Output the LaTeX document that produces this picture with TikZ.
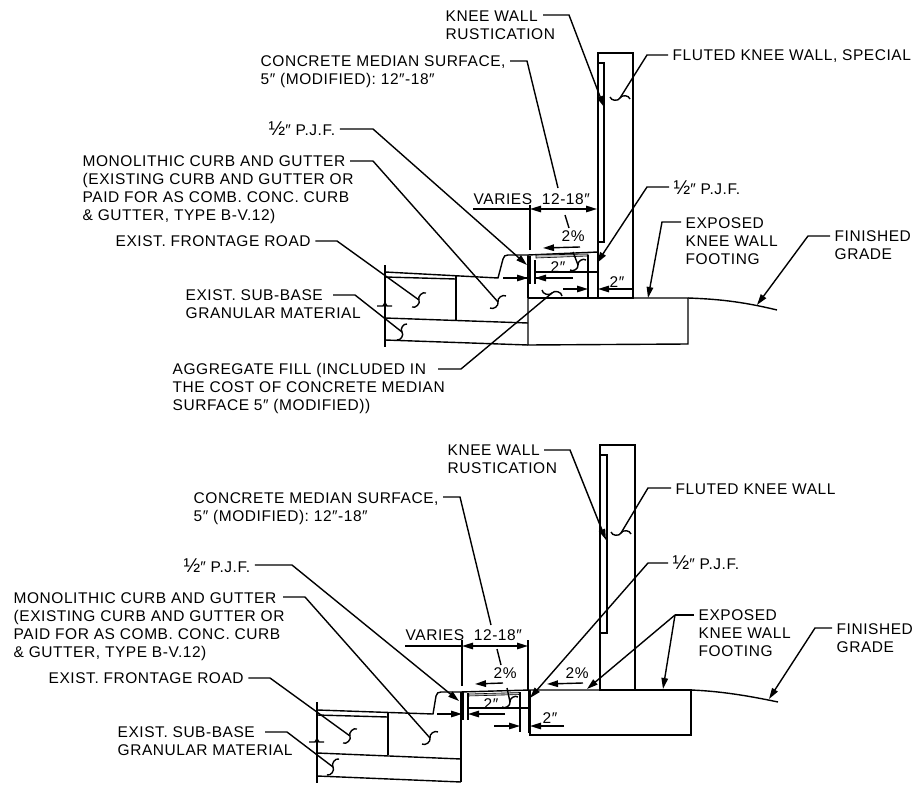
\documentclass[tikz,border=0pt]{standalone}
\usepackage{fontspec}
\setmainfont[LetterSpace=3.5]{Liberation Sans}
\usetikzlibrary{arrows.meta,calc}
\tikzset{
	leader/.style={shorten <=4pt},
	tipped/.style={-{Stealth[inset=0pt,length=11pt,width=6.5pt]}},
	bothtips/.style={{Stealth[inset=0pt,length=11pt,width=6.5pt]}-{Stealth[inset=0pt,length=11pt,width=6.5pt]}},
	heavy/.style={line width=2.2pt}
}
\newcommand{\wiggle}[3]{\draw ($(#1)+(#2,#3)$) to[bend right=70] (#1) to[bend left=70] ($(#1)-(#2,#3)$);}
\newcommand{\halfmark}{{\fontsize{20}{18}\selectfont ½}}
\begin{document}
\begin{tikzpicture}[x=1pt,y=-1pt,line width=1.4pt]
	\tikzstyle{every node}+=[inner sep=0pt,anchor=north west,align=left,font=\fontsize{15.5}{18}\selectfont]
	\useasboundingbox (0,0) rectangle (914,792);
	\draw (598,53) rectangle (633,298);
	\draw (598,63) -- (604,63) -- (604,242) -- (598,242);
	\draw (633,298) -- (688,298) -- (688,344) -- (528,345) -- (528,255) -- (508,255);
	\draw (688,298) .. controls (715,299) and (740,301) .. (777,310);
	\draw (508,255) .. controls (505,255) and (504,256) .. (503,259) -- (498,278) -- (385,272);
	\draw (528,255) -- (598,252);
	\draw[fill=gray!50,line width=.6pt] (536,255) -- (588,254) -- (588,256) -- (536,258) -- cycle;
	\draw (385,277) -- (456,279);
	\draw (456,275) -- (456,320);
	\draw (385,265) -- (385,347);
	\draw (377,306) -- (383,306) -- (385,303) -- (387,306) -- (392,306);
	\draw (385,318) -- (528,323);
	\draw (385,340) -- (528,345);
	\draw (536,272) -- (598,272);
	\draw (528,298) -- (598,298);
	\draw (588,255) -- (588,298);
	\draw (530,256) -- (530,284);
	\draw (535,260) -- (535,284);
	\draw[heavy] (598,253) -- (598,298);
	\draw[heavy] (528,256) -- (528,298);
	\draw (530,205) -- (530,250);
	\draw (503,278) -- (528,278);
	\draw (535,278) -- (573,278);
	\node (kneetop) at (445,10) {KNEE WALL\\RUSTICATION};
	\coordinate (kneetopfrom) at (543,15);
	\coordinate (kneetopbend) at (569,15);
	\coordinate (kneetoptip) at (604,107);
	\draw[tipped] (kneetopfrom) -- (kneetopbend) -- (kneetoptip);
	\node (flutedtop) at (672,49) {FLUTED KNEE WALL, SPECIAL};
	\coordinate (flutedtopbend) at (647,55);
	\coordinate (flutedtopend) at (620,98);
	\draw[leader] (flutedtopbend -| flutedtop.west) -- (flutedtopbend) -- (flutedtopend);
	\wiggle{flutedtopend}{10}{1}
	\node (concretetop) at (260,55) {CONCRETE MEDIAN SURFACE,\\5″ (MODIFIED): 12″-18″};
	\coordinate (concretetopbend) at (527,61);
	\coordinate (concretetopa) at (558,188);
	\coordinate (concretetopb) at (565,215);
	\coordinate (concretetopc) at (569,228);
	\coordinate (concretetopd) at (573,252);
	\coordinate (concretetopend) at (578,265);
	\draw[leader] (concretetopbend -| concretetop.east) -- (concretetopbend) -- (concretetopa);
	\draw (concretetopb) -- (concretetopc);
	\draw (concretetopd) -- (concretetopend);
	\wiggle{concretetopend}{8}{-5}
	\node (pjftopleft) at (268,121) {\halfmark″ P.J.F.};
	\coordinate (pjftopleftbend) at (373,129);
	\coordinate (pjftoplefttip) at (527,265);
	\draw[leader,tipped] (pjftopleftbend -| pjftopleft.east) -- (pjftopleftbend) -- (pjftoplefttip);
	\node (pjftopright) at (673,180) {\halfmark″ P.J.F.};
	\coordinate (pjftoprightbend) at (647,187);
	\coordinate (pjftoprighttip) at (597,263);
	\draw[leader,tipped] (pjftoprightbend -| pjftopright.west) -- (pjftoprightbend) -- (pjftoprighttip);
	\node (monotop) at (82,155) {MONOLITHIC CURB AND GUTTER\\(EXISTING CURB AND GUTTER OR\\PAID FOR AS COMB. CONC. CURB\\\& GUTTER, TYPE B-V.12)};
	\coordinate (monotopfrom) at (350,161);
	\coordinate (monotopbend) at (373,161);
	\coordinate (monotopend) at (498,302);
	\draw (monotopfrom) -- (monotopbend) -- (monotopend);
	\wiggle{monotopend}{8}{-6}
	\node (roadtop) at (115,235) {EXIST. FRONTAGE ROAD};
	\coordinate (roadtopbend) at (337,241);
	\coordinate (roadtopend) at (419,300);
	\draw[leader] (roadtopbend -| roadtop.east) -- (roadtopbend) -- (roadtopend);
	\wiggle{roadtopend}{7}{-7}
	\node (basetop) at (185,289) {EXIST. SUB-BASE\\GRANULAR MATERIAL};
	\coordinate (basetopfrom) at (333,295);
	\coordinate (basetopbend) at (355,295);
	\coordinate (basetopend) at (402,332);
	\draw (basetopfrom) -- (basetopbend) -- (basetopend);
	\wiggle{basetopend}{5}{-8}
	\node (filltop) at (172,363) {AGGREGATE FILL (INCLUDED IN\\THE COST OF CONCRETE MEDIAN\\SURFACE 5″ (MODIFIED))};
	\coordinate (filltopfrom) at (438,369);
	\coordinate (filltopbend) at (461,369);
	\coordinate (filltopend) at (552,293);
	\draw (filltopfrom) -- (filltopbend) -- (filltopend);
	\wiggle{filltopend}{10}{3}
	\node (exposedtop) at (685,217) {EXPOSED\\KNEE WALL\\FOOTING};
	\coordinate (exposedtopbend) at (662,222);
	\coordinate (exposedtoptip) at (648,298);
	\draw[leader,tipped] (exposedtopbend -| exposedtop.west) -- (exposedtopbend) -- (exposedtoptip);
	\node (gradetop) at (834,230) {FINISHED\\GRADE};
	\coordinate (gradetopbend) at (808,236);
	\coordinate (gradetoptip) at (757,305);
	\draw[leader,tipped] (gradetopbend -| gradetop.west) -- (gradetopbend) -- (gradetoptip);
	\node (variestop) at (473,193) {VARIES\hspace{5pt} 12-18″};
	\coordinate (variestopfrom) at (473,209);
	\coordinate (variestopleft) at (530,209);
	\coordinate (variestopright) at (597,209);
	\draw (variestopfrom) -- (variestopleft);
	\draw[bothtips] (variestopleft) -- (variestopright);
	\node (slopetop) at (561,230) {2\%};
	\coordinate (slopetopfrom) at (580,247);
	\coordinate (slopetoptip) at (543,248);
	\draw[tipped] (slopetopfrom) -- (slopetoptip);
	\node (twoinnertop) at (550,261) {2″};
	\coordinate (twoinnertopa) at (503,278);
	\coordinate (twoinnertopb) at (528,278);
	\coordinate (twoinnertopc) at (573,278);
	\coordinate (twoinnertopd) at (535,278);
	\draw[tipped] (twoinnertopa) -- (twoinnertopb);
	\draw[tipped] (twoinnertopc) -- (twoinnertopd);
	\node (twoouttertop) at (609,276) {2″};
	\coordinate (twoouttertopa) at (563,289);
	\coordinate (twoouttertopb) at (588,289);
	\coordinate (twoouttertopc) at (632,289);
	\coordinate (twoouttertopd) at (598,289);
	\draw[tipped] (twoouttertopa) -- (twoouttertopb);
	\draw[tipped] (twoouttertopc) -- (twoouttertopd);
	\draw (600,445) rectangle (635,690);
	\draw (600,455) -- (607,455) -- (607,633) -- (600,633);
	\draw (635,690) -- (691,690) -- (691,735) -- (530,735) -- (530,690);
	\draw (691,690) .. controls (715,691) and (740,694) .. (778,702);
	\draw (600,690) -- (530,690) -- (460,692) -- (441,692);
	\draw (441,692) .. controls (438,692) and (437,693) .. (436,696) -- (433,714) -- (317,710);
	\draw[fill=gray!50,line width=.6pt] (468,694) -- (520,692.5) -- (520,694.5) -- (468,696) -- cycle;
	\draw (317,715) -- (388,717);
	\draw (388,712) -- (388,755);
	\draw (317,702) -- (317,783);
	\draw (309,742) -- (315,742) -- (317,739) -- (319,742) -- (324,742);
	\draw (317,753) -- (461,759);
	\draw (317,776) -- (461,782);
	\draw (461,692) -- (461,782);
	\draw (467,708) -- (528,708);
	\draw (520,692) -- (520,732);
	\draw (468,693) -- (468,720);
	\draw (463,692) -- (463,720);
	\draw[heavy] (461,692) -- (461,716);
	\draw[heavy] (529,690) -- (529,733);
	\draw (462,640) -- (462,686);
	\draw (528,640) -- (528,690);
	\node (kneelow) at (447,444) {KNEE WALL\\RUSTICATION};
	\coordinate (kneelowfrom) at (544,450);
	\coordinate (kneelowbend) at (570,450);
	\coordinate (kneelowtip) at (606,540);
	\draw[tipped] (kneelowfrom) -- (kneelowbend) -- (kneelowtip);
	\node (flutedlow) at (675,483) {FLUTED KNEE WALL};
	\coordinate (flutedlowbend) at (648,488);
	\coordinate (flutedlowend) at (621,533);
	\draw[leader] (flutedlowbend -| flutedlow.west) -- (flutedlowbend) -- (flutedlowend);
	\wiggle{flutedlowend}{10}{1}
	\node (concretelow) at (193,492) {CONCRETE MEDIAN SURFACE,\\5″ (MODIFIED): 12″-18″};
	\coordinate (concretelowbend) at (460,497);
	\coordinate (concretelowa) at (491,625);
	\coordinate (concretelowb) at (497,649);
	\coordinate (concretelowc) at (501,665);
	\coordinate (concretelowd) at (507,688);
	\coordinate (concretelowend) at (510,702);
	\draw[leader] (concretelowbend -| concretelow.east) -- (concretelowbend) -- (concretelowa);
	\draw (concretelowb) -- (concretelowc);
	\draw (concretelowd) -- (concretelowend);
	\wiggle{concretelowend}{8}{-5}
	\node (pjflowleft) at (183,558) {\halfmark″ P.J.F.};
	\coordinate (pjflowleftbend) at (292,565);
	\coordinate (pjflowlefttip) at (459,701);
	\draw[leader,tipped] (pjflowleftbend -| pjflowleft.east) -- (pjflowleftbend) -- (pjflowlefttip);
	\node (pjflowright) at (672,555) {\halfmark″ P.J.F.};
	\coordinate (pjflowrightbend) at (648,563);
	\coordinate (pjflowrighttip) at (530,698);
	\draw[leader,tipped] (pjflowrightbend -| pjflowright.west) -- (pjflowrightbend) -- (pjflowrighttip);
	\node (monolow) at (13,592) {MONOLITHIC CURB AND GUTTER\\(EXISTING CURB AND GUTTER OR\\PAID FOR AS COMB. CONC. CURB\\\& GUTTER, TYPE B-V.12)};
	\coordinate (monolowfrom) at (283,597);
	\coordinate (monolowbend) at (305,597);
	\coordinate (monolowend) at (430,738);
	\draw (monolowfrom) -- (monolowbend) -- (monolowend);
	\wiggle{monolowend}{8}{-6}
	\node (roadlow) at (48,672) {EXIST. FRONTAGE ROAD};
	\coordinate (roadlowbend) at (270,678);
	\coordinate (roadlowend) at (350,736);
	\draw[leader] (roadlowbend -| roadlow.east) -- (roadlowbend) -- (roadlowend);
	\wiggle{roadlowend}{7}{-7}
	\node (baselow) at (117,726) {EXIST. SUB-BASE\\GRANULAR MATERIAL};
	\coordinate (baselowfrom) at (265,732);
	\coordinate (baselowbend) at (287,732);
	\coordinate (baselowend) at (333,767);
	\draw (baselowfrom) -- (baselowbend) -- (baselowend);
	\wiggle{baselowend}{6}{-8}
	\node (exposedlow) at (698,609) {EXPOSED\\KNEE WALL\\FOOTING};
	\coordinate (exposedlowbend) at (675,615);
	\coordinate (exposedlowtipa) at (663,689);
	\coordinate (exposedlowtipb) at (587,689);
	\draw[leader] (exposedlowbend -| exposedlow.west) -- (exposedlowbend);
	\draw[tipped] (exposedlowbend) -- (exposedlowtipa);
	\draw[tipped] (exposedlowbend) -- (exposedlowtipb);
	\node (gradelow) at (836,623) {FINISHED\\GRADE};
	\coordinate (gradelowbend) at (815,628);
	\coordinate (gradelowtip) at (769,699);
	\draw[leader,tipped] (gradelowbend -| gradelow.west) -- (gradelowbend) -- (gradelowtip);
	\node (varieslow) at (405,629) {VARIES\hspace{5pt} 12-18″};
	\coordinate (varieslowfrom) at (405,646);
	\coordinate (varieslowleft) at (462,646);
	\coordinate (varieslowright) at (528,646);
	\draw (varieslowfrom) -- (varieslowleft);
	\draw[bothtips] (varieslowleft) -- (varieslowright);
	\node (slopelowa) at (493,667) {2\%};
	\coordinate (slopelowafrom) at (503,683);
	\coordinate (slopelowatip) at (475,684);
	\draw[tipped] (slopelowafrom) -- (slopelowatip);
	\node (slopelowb) at (565,667) {2\%};
	\coordinate (slopelowbfrom) at (583,683);
	\coordinate (slopelowbtip) at (547,684);
	\draw[tipped] (slopelowbfrom) -- (slopelowbtip);
	\node (twoinnerlow) at (483,698) {2″};
	\coordinate (twoinnerlowa) at (437,714);
	\coordinate (twoinnerlowb) at (462,714);
	\coordinate (twoinnerlowc) at (505,714);
	\coordinate (twoinnerlowd) at (468,714);
	\draw[tipped] (twoinnerlowa) -- (twoinnerlowb);
	\draw[tipped] (twoinnerlowc) -- (twoinnerlowd);
	\node (twooutterlow) at (542,712) {2″};
	\coordinate (twooutterlowa) at (494,726);
	\coordinate (twooutterlowb) at (520,726);
	\coordinate (twooutterlowc) at (564,726);
	\coordinate (twooutterlowd) at (530,726);
	\draw[tipped] (twooutterlowa) -- (twooutterlowb);
	\draw[tipped] (twooutterlowc) -- (twooutterlowd);
\end{tikzpicture}
\end{document}
